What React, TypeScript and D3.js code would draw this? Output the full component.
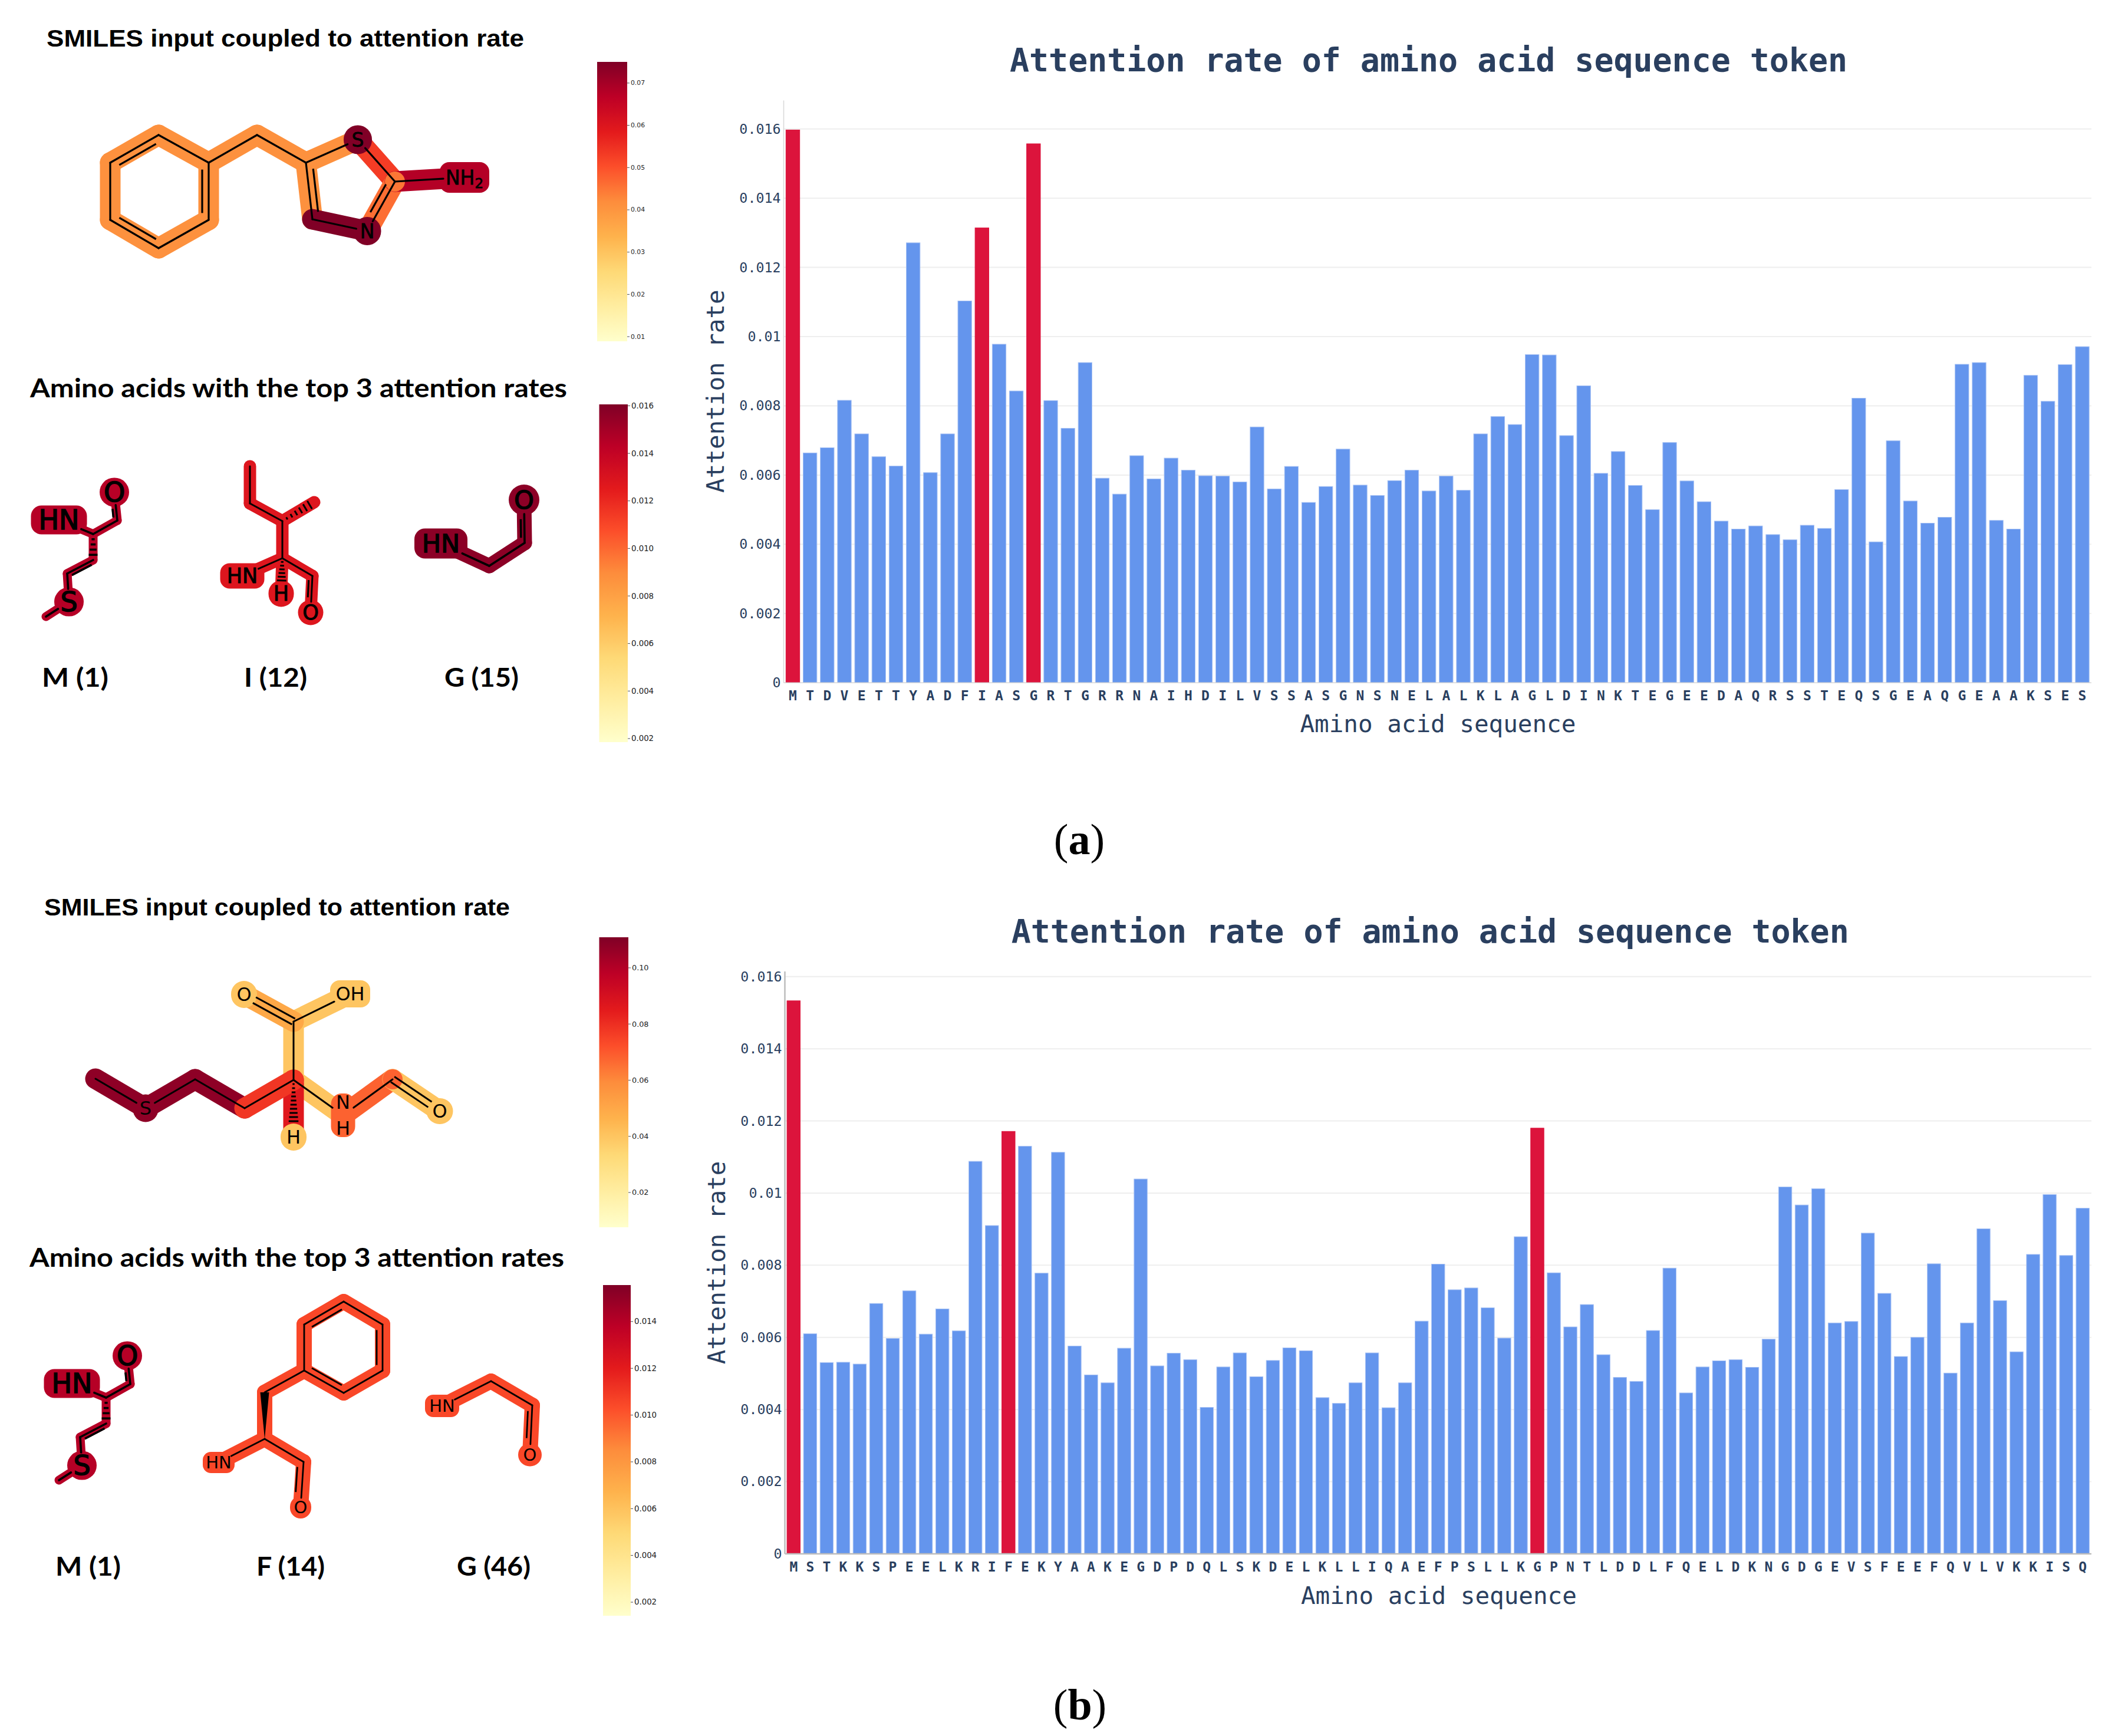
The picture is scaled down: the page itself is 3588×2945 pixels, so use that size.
import React, { useEffect, useRef } from 'react';
import * as d3 from 'd3';

const W = 3588;
const H = 2945;

// amino acid sequences, one letter per bar
const seqA = 'MTDVETTYADFIASGRTGRRNAIHDILVSSASGNSNELALKLAGLDINKTEGEEDAQRSSTEQSGEAQGEAAKSES'.split('');
const seqB = 'MSTKKSPEELKRIFEKYAAKEGDPDQLSKDELKLLIQAEFPSLLKGPNTLDDLFQELDKNGDGEVSFEEFQVLVKKISQ'.split('');

const valuesA = [
  0.01597, 0.00664, 0.00679, 0.00816, 0.00719, 0.00653, 0.00626, 0.01271, 0.00607, 0.00719,
  0.01103, 0.01314, 0.00978, 0.00843, 0.01557, 0.00815, 0.00735, 0.00925, 0.00591, 0.00545,
  0.00656, 0.00589, 0.00649, 0.00614, 0.00598, 0.00597, 0.0058, 0.00739, 0.0056, 0.00625,
  0.00521, 0.00567, 0.00675, 0.00571, 0.00541, 0.00584, 0.00614, 0.00554, 0.00597, 0.00556,
  0.00719, 0.00769, 0.00746, 0.00948, 0.00947, 0.00714, 0.00858, 0.00605, 0.00668, 0.0057,
  0.005, 0.00694, 0.00583, 0.00523, 0.00467, 0.00444, 0.00453, 0.00428, 0.00413, 0.00455,
  0.00446, 0.00558, 0.00822, 0.00407, 0.00699, 0.00525, 0.00461, 0.00478, 0.0092, 0.00925,
  0.00469, 0.00444, 0.00888, 0.00813, 0.00919, 0.00971,
];
const valuesB = [
  0.01533, 0.0061, 0.0053, 0.00531, 0.00526, 0.00694, 0.00597, 0.00729, 0.00609, 0.00679,
  0.00618, 0.01088, 0.0091, 0.01171, 0.0113, 0.00778, 0.01113, 0.00576, 0.00496, 0.00474,
  0.0057, 0.01039, 0.00521, 0.00556, 0.00538, 0.00406, 0.00518, 0.00557, 0.00491, 0.00536,
  0.00571, 0.00563, 0.00433, 0.00417, 0.00474, 0.00557, 0.00405, 0.00474, 0.00645, 0.00803,
  0.00732, 0.00737, 0.00682, 0.00598, 0.00879, 0.0118, 0.00779, 0.00629, 0.00691, 0.00552,
  0.00489, 0.00478, 0.00619, 0.00792, 0.00446, 0.00518, 0.00535, 0.00538, 0.00517, 0.00595,
  0.01017, 0.00967, 0.01012, 0.0064, 0.00644, 0.00889, 0.00722, 0.00547, 0.006, 0.00804,
  0.00501, 0.0064, 0.00901, 0.00702, 0.0056, 0.0083, 0.00996, 0.00827, 0.00958,
];
const topA = [0, 11, 14];
const topB = [0, 13, 45];
const yTicks = [0, 0.002, 0.004, 0.006, 0.008, 0.01, 0.012, 0.014, 0.016];

const TEXT = '#2a3f5f';
const MONO = '"DejaVu Sans Mono", monospace';
const ylorrd = d3.piecewise(d3.interpolateRgb, d3.schemeYlOrRd[9] as string[]);

interface BarProps {
  seq: string[];
  values: number[];
  top: number[];
  y0: number;
  y16: number;
  axisTop: number;
  left: number;
  titleY: number;
  titleX: number;
  xLabelY: number;
  xTitleY: number;
  xTitleX: number;
  yTitleX: number;
  yTitleY: number;
  axisColor: string;
  axisWidth: number;
}

const BarPanel: React.FC<BarProps> = (p) => {
  const ref = useRef<SVGGElement>(null);
  useEffect(() => {
    const g = d3.select(ref.current);
    g.selectAll('*').remove();
    const right = 3548;
    // bands run a little past the axis ends on the original
    const x = d3.scaleBand<number>().domain(d3.range(p.seq.length)).range([p.left - 2, right + 2]).padding(0.2);
    const y = d3.scaleLinear().domain([0, 0.016]).range([p.y0, p.y16]);

    // gridlines under the bars
    g.append('g').selectAll('line').data(yTicks.slice(1)).enter().append('line')
      .attr('x1', p.left).attr('x2', right)
      .attr('y1', d => y(d)).attr('y2', d => y(d))
      .attr('stroke', '#eeeeee').attr('stroke-width', 2);

    g.append('g').selectAll('rect').data(p.values).enter().append('rect')
      .attr('x', (_, i) => x(i) || 0)
      .attr('y', d => y(d))
      .attr('width', x.bandwidth())
      .attr('height', d => p.y0 - y(d))
      .attr('fill', (_, i) => (p.top.includes(i) ? '#dc143c' : '#6495ed'))
      .attr('stroke', (_, i) => (p.top.includes(i) ? '#dc143c' : '#a9c3f4'))
      .attr('stroke-width', 1);

    const yAxis = g.append('g').attr('transform', `translate(${p.left},0)`)
      .call(d3.axisLeft(y).tickValues(yTicks).tickSize(0).tickPadding(5).tickFormat(d => String(+d)));
    yAxis.select('.domain').remove();
    yAxis.selectAll('text')
      .style('font-family', MONO).style('font-size', '23.3px').style('fill', TEXT);

    const xAxis = g.append('g').attr('transform', `translate(0,${p.y0})`)
      .call(d3.axisBottom(x).tickSize(0).tickPadding(0).tickFormat(i => p.seq[+i]));
    xAxis.select('.domain').remove();
    xAxis.selectAll('text')
      .attr('y', p.xLabelY - p.y0).attr('dy', 0)
      .style('font-family', MONO).style('font-weight', 'bold').style('font-size', '23px').style('fill', TEXT);

    g.append('line').attr('x1', p.left).attr('x2', p.left).attr('y1', p.axisTop).attr('y2', p.y0)
      .attr('stroke', p.axisColor).attr('stroke-width', p.axisWidth);
    g.append('line').attr('x1', p.left).attr('x2', right).attr('y1', p.y0).attr('y2', p.y0)
      .attr('stroke', p.axisColor).attr('stroke-width', p.axisWidth);
  }, [p]);

  return (
    <g>
      <g ref={ref} />
      <text x={p.titleX} y={p.titleY} fontFamily={MONO} fontWeight="bold" fontSize={54.9} fill={TEXT}>
        Attention rate of amino acid sequence token
      </text>
      <text x={p.xTitleX} y={p.xTitleY} fontFamily={MONO} fontSize={40.9} fill={TEXT}>
        Amino acid sequence
      </text>
      <text
        transform={`translate(${p.yTitleX},${p.yTitleY}) rotate(-90)`}
        textAnchor="middle"
        fontFamily={MONO}
        fontSize={40.9}
        fill={TEXT}
      >
        Attention rate
      </text>
    </g>
  );
};

interface BarScale {
  x0: number;
  x1: number;
  y0: number;
  y1: number;
  domain: [number, number];
  ticks: number[];
  digits: number;
  fontSize: number;
}

const colorOf = (b: BarScale) => d3.scaleSequential(ylorrd).domain(b.domain);

const ColorBar: React.FC<{ id: string; bar: BarScale }> = ({ id, bar }) => {
  const color = colorOf(bar);
  const y = d3.scaleLinear().domain(bar.domain).range([bar.y1, bar.y0]);
  const stops = d3.range(0, 1.0001, 1 / 40);
  return (
    <g>
      <defs>
        <linearGradient id={id} x1="0" x2="0" y1="1" y2="0">
          {stops.map(t => (
            <stop key={t} offset={t} stopColor={color(bar.domain[0] + t * (bar.domain[1] - bar.domain[0]))} />
          ))}
        </linearGradient>
      </defs>
      <rect x={bar.x0} y={bar.y0} width={bar.x1 - bar.x0} height={bar.y1 - bar.y0} fill={`url(#${id})`} />
      {bar.ticks.map(t => (
        <g key={t}>
          <line x1={bar.x1} x2={bar.x1 + 4} y1={y(t)} y2={y(t)} stroke="#222" strokeWidth={0.8} />
          <text
            x={bar.x1 + 6}
            y={y(t)}
            dominantBaseline="central"
            fontFamily='"DejaVu Sans", sans-serif'
            fontSize={bar.fontSize}
            fill="#222"
          >
            {t.toFixed(bar.digits)}
          </text>
        </g>
      ))}
    </g>
  );
};

interface Atom {
  id: string;
  x: number;
  y: number;
  label?: string;
  sub?: string;
  stack?: string;
  w?: number; // highlight box
  h?: number;
  round?: number;
  gap?: number; // where the black bond line stops
  v?: number;
}
interface Bond {
  a: string;
  b: string;
  v: number;
  dbl?: string; // atom the second line leans toward, 'mid' = both sides
  kind?: 'hash' | 'wedge';
}
interface Mol {
  atoms: Atom[];
  bonds: Bond[];
  band: number;
  lw: number;
  font: number;
  heavy?: number; // extra stroke on the atom labels
  off?: number;
}

const Molecule: React.FC<{ mol: Mol; bar: BarScale }> = ({ mol, bar }) => {
  const color = colorOf(bar);
  const byId = new Map(mol.atoms.map(a => [a.id, a]));
  const off = mol.off ?? 9;

  const bondGeom = (bond: Bond) => {
    const a = byId.get(bond.a)!;
    const b = byId.get(bond.b)!;
    const len = Math.hypot(b.x - a.x, b.y - a.y);
    const ux = (b.x - a.x) / len;
    const uy = (b.y - a.y) / len;
    const ga = a.gap ?? 0;
    const gb = b.gap ?? 0;
    return {
      a, b, len, ux, uy,
      x1: a.x + ux * ga, y1: a.y + uy * ga,
      x2: b.x - ux * gb, y2: b.y - uy * gb,
    };
  };

  const blackLines = (bond: Bond, i: number) => {
    const g = bondGeom(bond);
    const nx = -g.uy;
    const ny = g.ux;
    if (bond.kind === 'wedge') {
      const pts: [number, number][] = [
        [g.x1, g.y1],
        [g.x2 + nx * 7.5, g.y2 + ny * 7.5],
        [g.x2 - nx * 7.5, g.y2 - ny * 7.5],
      ];
      return <polygon key={i} points={pts.join(' ')} fill="#000" />;
    }
    if (bond.kind === 'hash') {
      const count = Math.max(4, Math.round(g.len / 10));
      return (
        <g key={i}>
          {d3.range(1, count + 1).map(k => {
            const t = k / (count + 1);
            const cx = g.x1 + (g.x2 - g.x1) * t;
            const cy = g.y1 + (g.y2 - g.y1) * t;
            const hw = 1 + t * 8;
            return (
              <line key={k} x1={cx - nx * hw} y1={cy - ny * hw} x2={cx + nx * hw} y2={cy + ny * hw}
                stroke="#000" strokeWidth={mol.lw} />
            );
          })}
        </g>
      );
    }
    if (bond.dbl === 'mid') {
      const d = off / 2;
      return (
        <g key={i}>
          <line x1={g.x1 + nx * d} y1={g.y1 + ny * d} x2={g.x2 + nx * d} y2={g.y2 + ny * d} stroke="#000" strokeWidth={mol.lw} />
          <line x1={g.x1 - nx * d} y1={g.y1 - ny * d} x2={g.x2 - nx * d} y2={g.y2 - ny * d} stroke="#000" strokeWidth={mol.lw} />
        </g>
      );
    }
    const main = <line x1={g.x1} y1={g.y1} x2={g.x2} y2={g.y2} stroke="#000" strokeWidth={mol.lw} strokeLinecap="round" />;
    if (!bond.dbl) return <g key={i}>{main}</g>;
    const to = byId.get(bond.dbl)!;
    const side = (to.x - g.a.x) * nx + (to.y - g.a.y) * ny > 0 ? 1 : -1;
    const trim = Math.min(g.len * 0.12, 14);
    return (
      <g key={i}>
        {main}
        <line
          x1={g.x1 + g.ux * trim + nx * off * side}
          y1={g.y1 + g.uy * trim + ny * off * side}
          x2={g.x2 - g.ux * trim + nx * off * side}
          y2={g.y2 - g.uy * trim + ny * off * side}
          stroke="#000"
          strokeWidth={mol.lw}
        />
      </g>
    );
  };

  return (
    <g>
      {mol.bonds.map((bond, i) => {
        const a = byId.get(bond.a)!;
        const b = byId.get(bond.b)!;
        return (
          <line key={i} x1={a.x} y1={a.y} x2={b.x} y2={b.y} stroke={color(bond.v)} strokeWidth={mol.band} strokeLinecap="round" />
        );
      })}
      {mol.atoms.filter(a => a.v !== undefined && a.w).map(a => (
        <rect
          key={a.id}
          x={a.x - a.w! / 2}
          y={a.y - a.h! / 2}
          width={a.w}
          height={a.h}
          rx={a.round ?? Math.min(a.w!, a.h!) / 2}
          ry={a.round ?? Math.min(a.w!, a.h!) / 2}
          fill={color(a.v!)}
        />
      ))}
      {mol.bonds.map(blackLines)}
      {mol.atoms.filter(a => a.label).map(a => (
        <g key={a.id}>
          <text
            x={a.x}
            y={a.stack ? a.y - mol.font * 0.7 : a.y}
            textAnchor="middle"
            dominantBaseline="central"
            fontFamily='"DejaVu Sans", sans-serif'
            fontSize={mol.font}
            stroke="#000"
            strokeWidth={mol.heavy ?? 0}
            fill="#000"
          >
            {a.label}
            {a.sub ? (
              <tspan dy={mol.font * 0.3} fontSize={mol.font * 0.7}>{a.sub}</tspan>
            ) : null}
          </text>
          {a.stack ? (
            <text
              x={a.x}
              y={a.y + mol.font * 0.7}
              textAnchor="middle"
              dominantBaseline="central"
              fontFamily='"DejaVu Sans", sans-serif'
              fontSize={mol.font}
              fill="#000"
            >
              {a.stack}
            </text>
          ) : null}
        </g>
      ))}
    </g>
  );
};

// colour bars
const barA1: BarScale = { x0: 1013, x1: 1064, y0: 105, y1: 579, domain: [0.0089, 0.075], ticks: [0.01, 0.02, 0.03, 0.04, 0.05, 0.06, 0.07], digits: 2, fontSize: 10.8 };
const barA2: BarScale = { x0: 1016.5, x1: 1065, y0: 686, y1: 1259, domain: [0.00185, 0.01606], ticks: [0.002, 0.004, 0.006, 0.008, 0.01, 0.012, 0.014, 0.016], digits: 3, fontSize: 13.3 };
const barB1: BarScale = { x0: 1016.5, x1: 1066, y0: 1590, y1: 2082, domain: [0.0076, 0.1109], ticks: [0.02, 0.04, 0.06, 0.08, 0.1], digits: 2, fontSize: 12.8 };
const barB2: BarScale = { x0: 1023, x1: 1070, y0: 2180, y1: 2741, domain: [0.00142, 0.01556], ticks: [0.002, 0.004, 0.006, 0.008, 0.01, 0.012, 0.014], digits: 3, fontSize: 13.3 };

// molecule structures, atom places
const molA1: Mol = {
  band: 35, lw: 3.2, font: 33, heavy: 0.8, off: 11,
  atoms: [
    { id: 'c1', x: 269, y: 229 }, { id: 'c2', x: 354, y: 276 }, { id: 'c3', x: 354, y: 373 },
    { id: 'c4', x: 269, y: 421 }, { id: 'c5', x: 187, y: 373 }, { id: 'c6', x: 187, y: 276 },
    { id: 'ch2', x: 436, y: 229 }, { id: 'c7', x: 519, y: 276 }, { id: 'c8', x: 530, y: 372 },
    { id: 's', x: 607, y: 237, label: 'S', w: 48, h: 49, v: 0.075, gap: 19 },
    { id: 'c9', x: 670, y: 308, w: 34, h: 34, v: 0.045 },
    { id: 'n', x: 623, y: 392, label: 'N', w: 47, h: 48, v: 0.075, gap: 19 },
    { id: 'nh2', x: 788, y: 301, label: 'NH', sub: '2', w: 84, h: 52, round: 16, v: 0.068, gap: 36 },
  ],
  bonds: [
    { a: 'c1', b: 'c6', v: 0.041, dbl: 'c3' }, { a: 'c1', b: 'c2', v: 0.041 },
    { a: 'c2', b: 'c3', v: 0.041, dbl: 'c5' }, { a: 'c3', b: 'c4', v: 0.041 },
    { a: 'c4', b: 'c5', v: 0.041, dbl: 'c1' }, { a: 'c5', b: 'c6', v: 0.041 },
    { a: 'c2', b: 'ch2', v: 0.041 }, { a: 'ch2', b: 'c7', v: 0.041 },
    { a: 'c7', b: 's', v: 0.041 }, { a: 'c7', b: 'c8', v: 0.041, dbl: 'c9' },
    { a: 's', b: 'c9', v: 0.053 }, { a: 'c9', b: 'n', v: 0.046, dbl: 'c8' },
    { a: 'c8', b: 'n', v: 0.075 }, { a: 'c9', b: 'nh2', v: 0.068 },
  ],
};

const molM: Mol = {
  band: 15, lw: 3.6, font: 46, heavy: 1.6, off: 6,
  atoms: [
    { id: 'o', x: 194, y: 835, label: 'O', w: 50, h: 49, v: 0.0145, gap: 22 },
    { id: 'c', x: 199, y: 883 }, { id: 'ca', x: 158, y: 906 },
    { id: 'hn', x: 100, y: 882, label: 'HN', w: 95, h: 49, round: 18, v: 0.0145, gap: 41 },
    { id: 'cb', x: 158, y: 950 }, { id: 'cg', x: 114, y: 973 },
    { id: 's', x: 117, y: 1021, label: 'S', w: 50, h: 49, v: 0.0145, gap: 22 },
    { id: 'me', x: 78, y: 1046 },
  ],
  bonds: [
    { a: 'c', b: 'o', v: 0.0145, dbl: 'ca' }, { a: 'ca', b: 'c', v: 0.0145 }, { a: 'ca', b: 'hn', v: 0.0145 },
    { a: 'ca', b: 'cb', v: 0.0145, kind: 'hash' }, { a: 'cb', b: 'cg', v: 0.0145, dbl: 's' },
    { a: 'cg', b: 's', v: 0.0145 }, { a: 's', b: 'me', v: 0.0145 },
  ],
};

const molI: Mol = {
  band: 21, lw: 3, font: 35, heavy: 1, off: 6,
  atoms: [
    { id: 'me1', x: 424, y: 791 }, { id: 'ch2', x: 424, y: 854 }, { id: 'cb', x: 479, y: 884 },
    { id: 'me2', x: 533, y: 852 }, { id: 'ca', x: 479, y: 947 },
    { id: 'hn', x: 411, y: 977, label: 'HN', w: 75, h: 43, round: 16, v: 0.0128, gap: 30 },
    { id: 'h', x: 477, y: 1007, label: 'H', w: 43, h: 45, v: 0.0128, gap: 16 },
    { id: 'c', x: 530, y: 977 },
    { id: 'o', x: 527, y: 1039, label: 'O', w: 43, h: 43, v: 0.0128, gap: 18 },
  ],
  bonds: [
    { a: 'me1', b: 'ch2', v: 0.0128 }, { a: 'ch2', b: 'cb', v: 0.0128 },
    { a: 'cb', b: 'me2', v: 0.0128, kind: 'hash' }, { a: 'cb', b: 'ca', v: 0.0128 },
    { a: 'ca', b: 'hn', v: 0.0128 }, { a: 'ca', b: 'h', v: 0.0128, kind: 'hash' },
    { a: 'ca', b: 'c', v: 0.0128 }, { a: 'c', b: 'o', v: 0.0128, dbl: 'ca' },
  ],
};

const molG: Mol = {
  band: 25, lw: 3.6, font: 43, heavy: 1.4, off: 6,
  atoms: [
    { id: 'hn', x: 748, y: 922, label: 'HN', w: 90, h: 51, round: 18, v: 0.0157, gap: 40 },
    { id: 'ca', x: 830, y: 960 }, { id: 'c', x: 890, y: 921 },
    { id: 'o', x: 889, y: 848, label: 'O', w: 52, h: 52, v: 0.0157, gap: 24 },
  ],
  bonds: [
    { a: 'hn', b: 'ca', v: 0.0157 }, { a: 'ca', b: 'c', v: 0.0157 }, { a: 'c', b: 'o', v: 0.0157, dbl: 'ca' },
  ],
};

const molB1: Mol = {
  band: 35, lw: 3, font: 32, off: 11,
  atoms: [
    { id: 'me', x: 162, y: 1830 },
    { id: 's', x: 247, y: 1880, label: 'S', w: 43, h: 47, v: 0.108, gap: 18 },
    { id: 'c1', x: 331, y: 1831 }, { id: 'c2', x: 415, y: 1880 }, { id: 'ca', x: 498, y: 1832 },
    { id: 'h', x: 498, y: 1929, label: 'H', w: 44, h: 46, v: 0.04, gap: 20 },
    { id: 'cooh', x: 498, y: 1733, w: 34, h: 34, v: 0.05 },
    { id: 'o1', x: 414, y: 1687, label: 'O', w: 44, h: 46, v: 0.04, gap: 20 },
    { id: 'oh', x: 594, y: 1686, label: 'OH', w: 68, h: 46, round: 16, v: 0.04, gap: 30 },
    { id: 'nh', x: 582, y: 1892, label: 'N', stack: 'H', w: 41, h: 74, round: 18, v: 0.068, gap: 22 },
    { id: 'c3', x: 666, y: 1831, w: 34, h: 34, v: 0.068 },
    { id: 'o2', x: 746, y: 1885, label: 'O', w: 45, h: 44, v: 0.04, gap: 20 },
  ],
  bonds: [
    { a: 'me', b: 's', v: 0.108 }, { a: 's', b: 'c1', v: 0.108 }, { a: 'c1', b: 'c2', v: 0.108 },
    { a: 'ca', b: 'nh', v: 0.04 }, { a: 'nh', b: 'c3', v: 0.068 }, { a: 'c3', b: 'o2', v: 0.04, dbl: 'mid' },
    { a: 'ca', b: 'cooh', v: 0.04 }, { a: 'cooh', b: 'oh', v: 0.04 }, { a: 'cooh', b: 'o1', v: 0.05, dbl: 'mid' },
    { a: 'ca', b: 'h', v: 0.086, kind: 'hash' }, { a: 'c2', b: 'ca', v: 0.078 },
  ],
};

const molF: Mol = {
  band: 26, lw: 2.8, font: 29, off: 10,
  atoms: [
    { id: 'r1', x: 583, y: 2208 }, { id: 'r2', x: 649, y: 2247 }, { id: 'r3', x: 649, y: 2325 },
    { id: 'r4', x: 583, y: 2363 }, { id: 'r5', x: 516, y: 2325 }, { id: 'r6', x: 516, y: 2247 },
    { id: 'cb', x: 449, y: 2362 }, { id: 'ca', x: 449, y: 2441 },
    { id: 'hn', x: 371, y: 2481, label: 'HN', w: 54, h: 36, round: 14, v: 0.0105, gap: 24 },
    { id: 'c', x: 515, y: 2480 },
    { id: 'o', x: 510, y: 2557, label: 'O', w: 36, h: 38, v: 0.0105, gap: 16 },
  ],
  bonds: [
    { a: 'r1', b: 'r6', v: 0.0105, dbl: 'r3' }, { a: 'r1', b: 'r2', v: 0.0105 },
    { a: 'r2', b: 'r3', v: 0.0105, dbl: 'r5' }, { a: 'r3', b: 'r4', v: 0.0105 },
    { a: 'r4', b: 'r5', v: 0.0105, dbl: 'r1' }, { a: 'r5', b: 'r6', v: 0.0105 },
    { a: 'r5', b: 'cb', v: 0.0105 }, { a: 'ca', b: 'cb', v: 0.0105, kind: 'wedge' },
    { a: 'ca', b: 'hn', v: 0.0105 }, { a: 'ca', b: 'c', v: 0.0105 }, { a: 'c', b: 'o', v: 0.0105, dbl: 'ca' },
  ],
};

const molG2: Mol = {
  band: 26, lw: 2.8, font: 29, off: 7,
  atoms: [
    { id: 'hn', x: 750, y: 2385, label: 'HN', w: 58, h: 38, round: 14, v: 0.0105, gap: 24 },
    { id: 'ca', x: 833, y: 2343 }, { id: 'c', x: 903, y: 2384 },
    { id: 'o', x: 899, y: 2468, label: 'O', w: 40, h: 39, v: 0.0105, gap: 18 },
  ],
  bonds: [
    { a: 'hn', b: 'ca', v: 0.0105 }, { a: 'ca', b: 'c', v: 0.0105 }, { a: 'c', b: 'o', v: 0.0105, dbl: 'ca' },
  ],
};

const shift = (m: Mol, dx: number, dy: number): Mol => ({
  ...m,
  atoms: m.atoms.map(a => ({ ...a, x: a.x + dx, y: a.y + dy })),
});

const Heading: React.FC<{ x: number; y: number; w: number; size: number; family: string; children: string }> = ({ x, y, w, size, family, children }) => (
  <text x={x} y={y} textLength={w} lengthAdjust="spacingAndGlyphs" fontFamily={family} fontWeight="bold" fontSize={size} fill="#000">
    {children}
  </text>
);

const ARIAL = '"Liberation Sans", Arial, sans-serif';
const CALIBRI = 'Lato, "Open Sans", sans-serif';

const Caption: React.FC<{ x: number; y: number; mark: string }> = ({ x, y, mark }) => (
  <text x={x} y={y} textAnchor="middle" fontFamily='"Liberation Serif", serif' fontSize={74} fill="#000">
    (<tspan fontWeight="bold">{mark}</tspan>)
  </text>
);

export default function App() {
  return (
    <svg width={W} height={H} viewBox={`0 0 ${W} ${H}`} style={{ position: 'absolute', left: 0, top: 0, background: '#fff' }}>
      <Heading x={79} y={79} w={810} size={41} family={ARIAL}>SMILES input coupled to attention rate</Heading>
      <Molecule mol={molA1} bar={barA1} />
      <ColorBar id="cbA1" bar={barA1} />

      <Heading x={51} y={674} w={911} size={43} family={CALIBRI}>Amino acids with the top 3 attention rates</Heading>
      <Molecule mol={molM} bar={barA2} />
      <Molecule mol={molI} bar={barA2} />
      <Molecule mol={molG} bar={barA2} />
      <Heading x={71} y={1165} w={113} size={43} family={CALIBRI}>M (1)</Heading>
      <Heading x={414} y={1165} w={107} size={43} family={CALIBRI}>I (12)</Heading>
      <Heading x={754} y={1165} w={126} size={43} family={CALIBRI}>G (15)</Heading>
      <ColorBar id="cbA2" bar={barA2} />

      <BarPanel seq={seqA} values={valuesA} top={topA} y0={1158.2} y16={218.7} axisTop={170.5} left={1329.5}
        titleX={1713} titleY={120.7} xLabelY={1188} xTitleX={2205.5} xTitleY={1242} yTitleX={1227.5} yTitleY={663.6}
        axisColor="#d8d8d8" axisWidth={1.5} />
      <Caption x={1831} y={1449} mark="a" />

      <Heading x={75} y={1552.6} w={790} size={41} family={ARIAL}>SMILES input coupled to attention rate</Heading>
      <Molecule mol={molB1} bar={barB1} />
      <ColorBar id="cbB1" bar={barB1} />

      <Heading x={50} y={2149} w={907} size={43} family={CALIBRI}>Amino acids with the top 3 attention rates</Heading>
      <Molecule mol={shift(molM, 22, 1465)} bar={barA2} />
      <Molecule mol={molF} bar={barB2} />
      <Molecule mol={molG2} bar={barB2} />
      <Heading x={94} y={2673} w={111} size={43} family={CALIBRI}>M (1)</Heading>
      <Heading x={435} y={2673} w={116} size={43} family={CALIBRI}>F (14)</Heading>
      <Heading x={775} y={2673} w={125} size={43} family={CALIBRI}>G (46)</Heading>
      <ColorBar id="cbB2" bar={barB2} />

      <BarPanel seq={seqB} values={valuesB} top={topB} y0={2635.9} y16={1656.8} axisTop={1648} left={1331.5}
        titleX={1715.7} titleY={1599} xLabelY={2666} xTitleX={2207} xTitleY={2720.5} yTitleX={1229.7} yTitleY={2142}
        axisColor="#bdbdbd" axisWidth={2.5} />
      <Caption x={1832} y={2917} mark="b" />
    </svg>
  );
}
